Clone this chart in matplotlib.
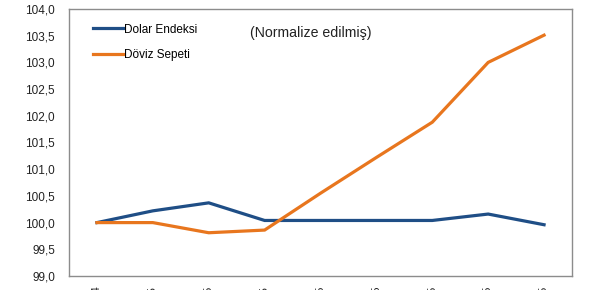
import matplotlib
matplotlib.use("Agg")
import matplotlib.pyplot as plt
from matplotlib.ticker import FuncFormatter

categories = ["Ara.14", "Oca.15", "Şub.15", "Mar.15", "Nis.15", "May.15", "Haz.15", "Tem.15", "Ağu.15"]
dolar_endeksi = [100.0, 100.22, 100.37, 100.04, 100.04, 100.04, 100.04, 100.16, 99.96]
doviz_sepeti = [100.0, 100.0, 99.81, 99.86, 100.55, 101.22, 101.88, 103.0, 103.51]
y_ticks = [99.0, 99.5, 100.0, 100.5, 101.0, 101.5, 102.0, 102.5, 103.0, 103.5, 104.0]

plt.rcParams['font.family'] = ['Liberation Sans', 'DejaVu Sans']

fig = plt.figure(figsize=(6.07, 2.90), dpi=100)
ax = fig.add_axes([69/607, 1-276/290, (572-69)/607, (276-9)/290])

x = list(range(len(categories)))
ax.plot(x, dolar_endeksi, color="#1F4E86", lw=2.3, label="Dolar Endeksi", solid_joinstyle="miter")
ax.plot(x, doviz_sepeti, color="#E8761E", lw=2.3, label="Döviz Sepeti", solid_joinstyle="miter")

ax.set_xlim(-0.5, len(categories) - 0.5)
ax.set_ylim(99.0, 104.0)
ax.set_yticks(y_ticks)
ax.yaxis.set_major_formatter(FuncFormatter(lambda v, p: f"{v:.1f}".replace(".", ",")))
ax.set_xticks(x)
ax.set_xticklabels(categories, rotation=90, fontsize=8)
ax.tick_params(axis="y", length=0, labelsize=8.5, pad=10, colors="#222222")
ax.tick_params(axis="x", length=0, pad=7, colors="#222222")
for s in ax.spines.values():
    s.set_color("#8C8C8C")
    s.set_linewidth(1.0)

leg = ax.legend(loc="upper left", bbox_to_anchor=(0.027, 0.985), frameon=False,
                fontsize=8.5, handlelength=2.5, handletextpad=0.15, labelspacing=1.15)
ax.text(250/607, 1-33/290, "(Normalize edilmiş)", transform=fig.transFigure,
        fontsize=10.2, va="center", ha="left", color="#222222")

fig.savefig("out.png", dpi=100)
